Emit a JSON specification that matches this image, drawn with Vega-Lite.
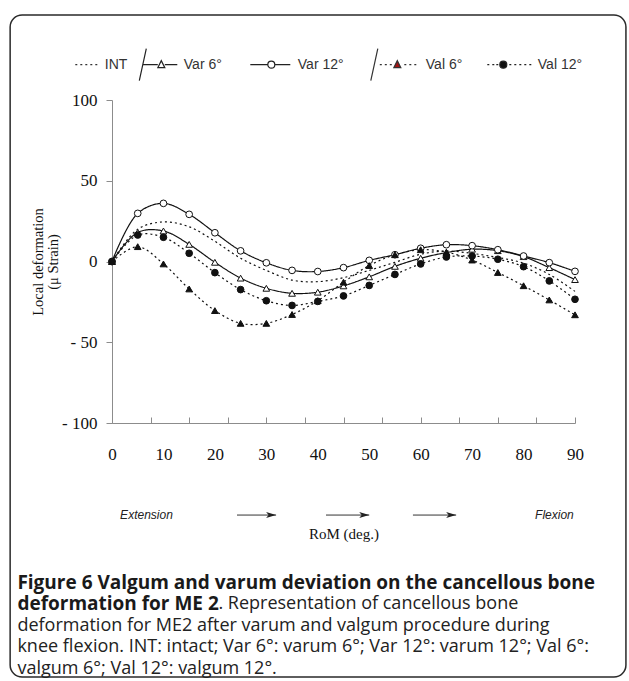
{
  "$schema": "https://vega.github.io/schema/vega-lite/v6.json",
  "width": 463,
  "height": 323,
  "autosize": {"type": "none"},
  "padding": {"left": 112, "top": 100, "right": 54, "bottom": 258},
  "background": "white",
  "config": {
    "view": {"stroke": null},
    "axis": {"grid": false, "domainColor": "#8c8c8c", "tickColor": "#8c8c8c", "labelFont": "Liberation Serif", "labelFontSize": 17, "labelColor": "#111", "titleFont": "Liberation Serif", "titleFontWeight": "normal", "titleFontSize": 15, "titleColor": "#111"}
  },
  "title": {
    "text": ["Figure 6 Valgum and varum deviation on the cancellous bone", "deformation for ME 2"],
    "subtitle": ["\u200b\u00a0\u00a0\u00a0\u00a0\u00a0\u00a0\u00a0\u00a0\u00a0\u00a0\u00a0\u00a0\u00a0\u00a0\u00a0\u00a0\u00a0\u00a0\u00a0\u00a0\u00a0\u00a0\u00a0\u00a0\u00a0\u00a0\u00a0\u00a0\u00a0\u00a0\u00a0\u00a0\u00a0\u00a0\u00a0\u00a0\u00a0\u00a0\u00a0\u00a0\u00a0\u00a0\u00a0. Representation of cancellous bone", "deformation for ME2 after varum and valgum procedure during", "knee flexion. INT: intact; Var 6°: varum 6°; Var 12°: varum 12°; Val 6°:", "valgum 6°; Val 12°: valgum 12°."],
    "orient": "bottom", "anchor": "start", "frame": "bounds", "dx": 8, "offset": -104, "baseline": "top",
    "font": "Open Sans", "fontSize": 19, "fontWeight": "bold", "lineHeight": 21.5, "color": "#1a1a1a",
    "subtitleFont": "Open Sans", "subtitleFontSize": 18, "subtitleLineHeight": 21.5, "subtitlePadding": -19, "subtitleColor": "#222"
  },
  "datasets": {
    "curves": [
      {"series":"INT","rom":0,"def":0},{"series":"INT","rom":5,"def":20},{"series":"INT","rom":10,"def":24.5},{"series":"INT","rom":15,"def":21.5},{"series":"INT","rom":20,"def":12.5},{"series":"INT","rom":25,"def":2},{"series":"INT","rom":30,"def":-5.5},{"series":"INT","rom":35,"def":-11.5},{"series":"INT","rom":40,"def":-12.5},{"series":"INT","rom":45,"def":-10},{"series":"INT","rom":50,"def":-5.5},{"series":"INT","rom":55,"def":-0.5},{"series":"INT","rom":60,"def":4.5},{"series":"INT","rom":65,"def":6.5},{"series":"INT","rom":70,"def":5},{"series":"INT","rom":75,"def":2.5},{"series":"INT","rom":80,"def":-1},{"series":"INT","rom":85,"def":-8},{"series":"INT","rom":90,"def":-18.5},
      {"series":"Var 6°","rom":0,"def":0},{"series":"Var 6°","rom":5,"def":18},{"series":"Var 6°","rom":10,"def":18.9},{"series":"Var 6°","rom":15,"def":10.6},{"series":"Var 6°","rom":20,"def":-0.5},{"series":"Var 6°","rom":25,"def":-10.3},{"series":"Var 6°","rom":30,"def":-16.6},{"series":"Var 6°","rom":35,"def":-19.7},{"series":"Var 6°","rom":40,"def":-19},{"series":"Var 6°","rom":45,"def":-15.1},{"series":"Var 6°","rom":50,"def":-9.5},{"series":"Var 6°","rom":55,"def":-3},{"series":"Var 6°","rom":60,"def":2},{"series":"Var 6°","rom":65,"def":5.5},{"series":"Var 6°","rom":70,"def":7.6},{"series":"Var 6°","rom":75,"def":6.7},{"series":"Var 6°","rom":80,"def":3},{"series":"Var 6°","rom":85,"def":-3.8},{"series":"Var 6°","rom":90,"def":-11.2},
      {"series":"Var 12°","rom":0,"def":0},{"series":"Var 12°","rom":5,"def":29.8},{"series":"Var 12°","rom":10,"def":36},{"series":"Var 12°","rom":15,"def":29.2},{"series":"Var 12°","rom":20,"def":17.8},{"series":"Var 12°","rom":25,"def":6.6},{"series":"Var 12°","rom":30,"def":-0.8},{"series":"Var 12°","rom":35,"def":-5.5},{"series":"Var 12°","rom":40,"def":-6.2},{"series":"Var 12°","rom":45,"def":-3.8},{"series":"Var 12°","rom":50,"def":0.7},{"series":"Var 12°","rom":55,"def":4.2},{"series":"Var 12°","rom":60,"def":8.2},{"series":"Var 12°","rom":65,"def":10.4},{"series":"Var 12°","rom":70,"def":9.8},{"series":"Var 12°","rom":75,"def":7.3},{"series":"Var 12°","rom":80,"def":3.4},{"series":"Var 12°","rom":85,"def":-0.7},{"series":"Var 12°","rom":90,"def":-6.1},
      {"series":"Val 6°","rom":0,"def":0},{"series":"Val 6°","rom":5,"def":9.2},{"series":"Val 6°","rom":10,"def":-1.5},{"series":"Val 6°","rom":15,"def":-17},{"series":"Val 6°","rom":20,"def":-30.4},{"series":"Val 6°","rom":25,"def":-38.3},{"series":"Val 6°","rom":30,"def":-38.3},{"series":"Val 6°","rom":35,"def":-32.8},{"series":"Val 6°","rom":40,"def":-24.3},{"series":"Val 6°","rom":45,"def":-12.8},{"series":"Val 6°","rom":50,"def":-2.5},{"series":"Val 6°","rom":55,"def":4.2},{"series":"Val 6°","rom":60,"def":7.3},{"series":"Val 6°","rom":65,"def":5.8},{"series":"Val 6°","rom":70,"def":0.9},{"series":"Val 6°","rom":75,"def":-6.8},{"series":"Val 6°","rom":80,"def":-15},{"series":"Val 6°","rom":85,"def":-23.8},{"series":"Val 6°","rom":90,"def":-33},
      {"series":"Val 12°","rom":0,"def":0},{"series":"Val 12°","rom":5,"def":16.4},{"series":"Val 12°","rom":10,"def":15},{"series":"Val 12°","rom":15,"def":5.1},{"series":"Val 12°","rom":20,"def":-6.9},{"series":"Val 12°","rom":25,"def":-17.4},{"series":"Val 12°","rom":30,"def":-24.3},{"series":"Val 12°","rom":35,"def":-27.2},{"series":"Val 12°","rom":40,"def":-24.7},{"series":"Val 12°","rom":45,"def":-21.3},{"series":"Val 12°","rom":50,"def":-14.8},{"series":"Val 12°","rom":55,"def":-8},{"series":"Val 12°","rom":60,"def":-1.5},{"series":"Val 12°","rom":65,"def":2.8},{"series":"Val 12°","rom":70,"def":3.4},{"series":"Val 12°","rom":75,"def":1.4},{"series":"Val 12°","rom":80,"def":-3.2},{"series":"Val 12°","rom":85,"def":-12},{"series":"Val 12°","rom":90,"def":-23.4}
    ],
    "arrows": [{"from": 24.3, "to": 31.9}, {"from": 41.6, "to": 50}, {"from": 58.5, "to": 66.9}],
    "notes": [{"rom": 6.7, "label": "Extension"}, {"rom": 86, "label": "Flexion"}]
  },
  "layer": [
    {
      "data": {"values": [{}]},
      "mark": {"type": "rect", "filled": false, "stroke": "#2a2a2a", "strokeWidth": 1.5, "cornerRadius": 12},
      "encoding": {
        "x": {"datum": -19.8, "type": "quantitative", "scale": {"domain": [0, 90], "nice": false, "zero": false}, "axis": null},
        "x2": {"datum": 99.9},
        "y": {"datum": 152.6, "type": "quantitative", "scale": {"domain": [-100, 100], "nice": false}, "axis": null},
        "y2": {"datum": -257.3}
      }
    },
    {
      "data": {"name": "curves"},
      "mark": {"type": "line", "interpolate": "catmull-rom", "color": "#111", "strokeWidth": 1.2},
      "encoding": {
        "x": {"field": "rom", "type": "quantitative", "scale": {"domain": [0, 90], "nice": false, "zero": false},
          "axis": {"orient": "bottom", "values": [0, 10, 20, 30, 40, 50, 60, 70, 80, 90], "ticks": false, "tickSize": 0, "labelPadding": 23, "labelFlush": false, "title": "RoM (deg.)", "titlePadding": 64}},
        "y": {"field": "def", "type": "quantitative", "scale": {"domain": [-100, 100], "nice": false},
          "axis": {"orient": "left", "values": [-100, -50, 0, 50, 100], "labelExpr": "replace(datum.label, '\u2212', '- ')", "tickSize": 6, "labelPadding": 9, "labelBaseline": "middle", "title": ["Local deformation", "(μ Strain)"], "titleFontSize": 14.5, "titleLineHeight": 15, "titlePadding": 1}},
        "detail": {"field": "series"},
        "strokeDash": {"field": "series", "type": "nominal", "scale": {"domain": ["INT", "Var 6°", "Var 12°", "Val 6°", "Val 12°"], "range": [[2, 3], [1, 0], [1, 0], [2, 3], [2, 3]]}, "legend": null}
      }
    },
    {
      "data": {"name": "curves"},
      "transform": [{"filter": "datum.series != 'INT'"}],
      "mark": {"type": "point", "filled": true, "stroke": "#111", "strokeWidth": 1, "size": 45, "opacity": 1},
      "encoding": {
        "x": {"field": "rom", "type": "quantitative", "scale": {"domain": [0, 90], "nice": false, "zero": false},
          "axis": {"orient": "bottom", "values": [0, 7.5, 15, 22.5, 30, 37.5, 45, 52.5, 60, 67.5, 75, 82.5, 90], "labels": false, "domain": false, "ticks": true, "tickSize": -6, "title": null}},
        "y": {"field": "def", "type": "quantitative", "scale": {"domain": [-100, 100], "nice": false}, "axis": null},
        "shape": {"field": "series", "type": "nominal", "scale": {"domain": ["Var 6°", "Var 12°", "Val 6°", "Val 12°"], "range": ["triangle-up", "circle", "triangle-up", "circle"]}, "legend": null},
        "fill": {"field": "series", "type": "nominal", "scale": {"domain": ["Var 6°", "Var 12°", "Val 6°", "Val 12°"], "range": ["white", "white", "#111", "#111"]}, "legend": null}
      }
    },
    {
      "data": {"name": "curves"},
      "transform": [{"filter": "false"}],
      "mark": {"type": "point", "filled": true, "strokeWidth": 1.2, "opacity": 1},
      "encoding": {
        "shape": {"field": "series", "type": "nominal",
          "scale": {"domain": ["INT", "Var 6°", "Var 12°", "Val 6°", "Val 12°"],
            "range": [
              "M0.02,-0.64M0.02,0.64M0.02,0h0.08M0.22,0h0.08M0.42,0h0.08M0.62,0h0.08M0.82,0h0.08",
              "M-0.58,0.64L-0.3,-0.64M-0.44,0H0.16M0.44,0H0.94M0.16,0.12L0.3,-0.16L0.44,0.12Z",
              "M-0.7,-0.64M-0.7,0.64M-0.7,0H0M0.28,0H0.9M0,0A0.14,0.14 0 1,1 0.28,0A0.14,0.14 0 1,1 0,0Z",
              "M-1,0.64L-0.72,-0.64M-0.64,0h0.08M-0.44,0h0.08M-0.24,0h0.08M0.34,0h0.08M0.54,0h0.08M0.74,0h0.08M-0.08,0.12L0.06,-0.16L0.2,0.12Z",
              "M-0.82,-0.64M-0.82,0.64M-0.82,0h0.08M-0.62,0h0.08M-0.46,0h0.08M0.06,0h0.08M0.26,0h0.08M0.46,0h0.08M0.66,0h0.08M0.86,0h0.08M-0.32,0A0.14,0.14 0 1,1 -0.04,0A0.14,0.14 0 1,1 -0.32,0Z"
            ]},
          "legend": {"orient": "none", "legendX": -63.2, "legendY": -61.6, "direction": "horizontal", "columns": 5, "title": null, "padding": 0, "symbolSize": 2500, "symbolStrokeWidth": 1.2, "labelFont": "Liberation Sans", "labelFontSize": 14, "labelColor": "#333", "labelOffset": 4, "columnPadding": 0,
            "labelExpr": "datum.label == 'Var 6°' ? datum.label + '\u00a0\u00a0\u00a0\u00a0\u00a0\u200b' : datum.label == 'Var 12°' ? datum.label + '\u00a0\u00a0\u00a0\u00a0\u00a0\u00a0\u200b' : datum.label == 'Val 6°' ? datum.label + '\u00a0\u00a0\u00a0\u00a0\u00a0\u200b' : datum.label"}},
        "fill": {"field": "series", "type": "nominal",
          "scale": {"domain": ["INT", "Var 6°", "Var 12°", "Val 6°", "Val 12°"], "range": ["transparent", "white", "white", "#a01414", "#111"]},
          "legend": {"orient": "none", "legendX": -63.2, "legendY": -61.6, "direction": "horizontal", "columns": 5, "title": null, "padding": 0, "symbolSize": 2500, "symbolStrokeWidth": 1.2, "labelFont": "Liberation Sans", "labelFontSize": 14, "labelColor": "#333", "labelOffset": 4, "columnPadding": 0,
            "labelExpr": "datum.label == 'Var 6°' ? datum.label + '\u00a0\u00a0\u00a0\u00a0\u00a0\u200b' : datum.label == 'Var 12°' ? datum.label + '\u00a0\u00a0\u00a0\u00a0\u00a0\u00a0\u200b' : datum.label == 'Val 6°' ? datum.label + '\u00a0\u00a0\u00a0\u00a0\u00a0\u200b' : datum.label"}},
        "stroke": {"field": "series", "type": "nominal",
          "scale": {"domain": ["INT", "Var 6°", "Var 12°", "Val 6°", "Val 12°"], "range": ["#333", "#222", "#222", "#333", "#222"]},
          "legend": {"orient": "none", "legendX": -63.2, "legendY": -61.6, "direction": "horizontal", "columns": 5, "title": null, "padding": 0, "symbolSize": 2500, "symbolStrokeWidth": 1.2, "labelFont": "Liberation Sans", "labelFontSize": 14, "labelColor": "#333", "labelOffset": 4, "columnPadding": 0,
            "labelExpr": "datum.label == 'Var 6°' ? datum.label + '\u00a0\u00a0\u00a0\u00a0\u00a0\u200b' : datum.label == 'Var 12°' ? datum.label + '\u00a0\u00a0\u00a0\u00a0\u00a0\u00a0\u200b' : datum.label == 'Val 6°' ? datum.label + '\u00a0\u00a0\u00a0\u00a0\u00a0\u200b' : datum.label"}}
      }
    },
    {
      "data": {"name": "arrows"},
      "mark": {"type": "rule", "color": "#333", "strokeWidth": 1},
      "encoding": {
        "x": {"field": "from", "type": "quantitative", "scale": {"domain": [0, 90], "nice": false, "zero": false}, "axis": null},
        "x2": {"field": "to"},
        "y": {"datum": -157, "type": "quantitative", "scale": {"domain": [-100, 100], "nice": false}, "axis": null}
      }
    },
    {
      "data": {"name": "arrows"},
      "mark": {"type": "point", "filled": true, "color": "#222", "size": 100, "opacity": 1, "shape": "M-2,-0.6L0,0L-2,0.6L-1.5,0Z"},
      "encoding": {
        "x": {"field": "to", "type": "quantitative", "scale": {"domain": [0, 90], "nice": false, "zero": false}, "axis": null},
        "y": {"datum": -157, "type": "quantitative", "scale": {"domain": [-100, 100], "nice": false}, "axis": null}
      }
    },
    {
      "data": {"name": "notes"},
      "mark": {"type": "text", "font": "Liberation Sans", "fontStyle": "italic", "fontSize": 12, "color": "#222", "baseline": "middle", "align": "center"},
      "encoding": {
        "x": {"field": "rom", "type": "quantitative", "scale": {"domain": [0, 90], "nice": false, "zero": false}, "axis": null},
        "y": {"datum": -157, "type": "quantitative", "scale": {"domain": [-100, 100], "nice": false}, "axis": null},
        "text": {"field": "label"}
      }
    }
  ],
  "resolve": {"scale": {"shape": "independent", "fill": "independent", "stroke": "independent"}, "axis": {"x": "independent", "y": "independent"}}
}
